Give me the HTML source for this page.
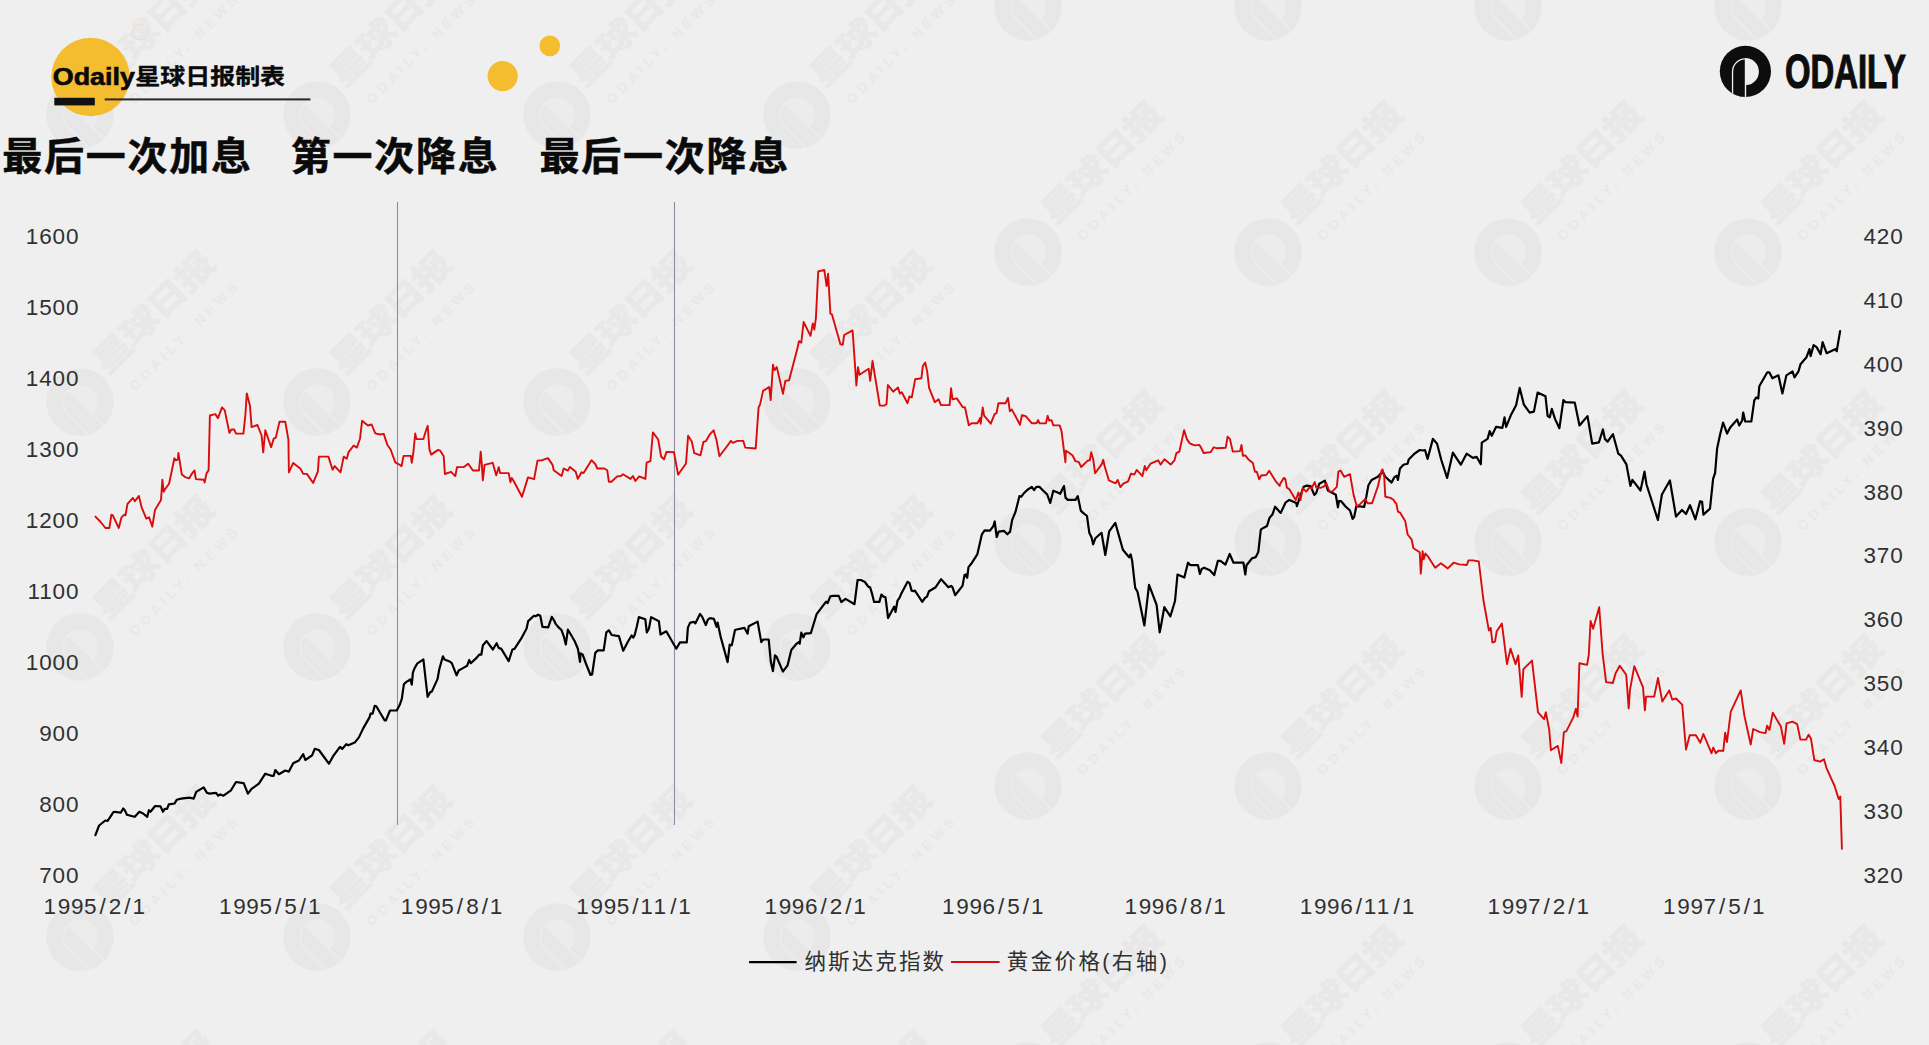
<!DOCTYPE html>
<html><head><meta charset="utf-8"><title>纳斯达克指数与黄金价格</title>
<style>html,body{margin:0;padding:0;background:#efefef;}svg{display:block}</style></head>
<body>
<svg width="1929" height="1045" viewBox="0 0 1929 1045">
<rect width="1929" height="1045" fill="#efefef"/>
<clipPath id="wmc"><circle r="25.6"/></clipPath>
<g id="wm"><g transform="translate(80,115)"><g transform="rotate(-45) scale(1.316)"><circle r="25.6" fill="#e7e7e7"/><path d="M-13.5,0.2 A13.5,13.5 0 1 1 0.8,13.7 L0.8,25 L-13.5,25 Z" fill="#ececec" clip-path="url(#wmc)"/><path d="M-12.2,0.2 A12.2,12.2 0 0 1 -0.6,-12 L-0.6,30 L-12.2,30 Z" fill="#e7e7e7" clip-path="url(#wmc)"/></g><g transform="rotate(-45)"><text transform="translate(38,0.5) scale(1,0.82)" font-family="Liberation Sans, Noto Sans CJK SC, sans-serif" font-weight="700" font-size="40" fill="#e8e8e8" stroke="#e8e8e8" stroke-width="1" letter-spacing="-1.6">星球日报</text><text x="46" y="31.5" font-family="Liberation Sans, sans-serif" font-weight="700" font-size="13.5" fill="#e8e8e8" textLength="146" lengthAdjust="spacing">ODAILY. NEWS</text></g></g><g transform="translate(80,402)"><g transform="rotate(-45) scale(1.316)"><circle r="25.6" fill="#e7e7e7"/><path d="M-13.5,0.2 A13.5,13.5 0 1 1 0.8,13.7 L0.8,25 L-13.5,25 Z" fill="#ececec" clip-path="url(#wmc)"/><path d="M-12.2,0.2 A12.2,12.2 0 0 1 -0.6,-12 L-0.6,30 L-12.2,30 Z" fill="#e7e7e7" clip-path="url(#wmc)"/></g><g transform="rotate(-45)"><text transform="translate(38,0.5) scale(1,0.82)" font-family="Liberation Sans, Noto Sans CJK SC, sans-serif" font-weight="700" font-size="40" fill="#e8e8e8" stroke="#e8e8e8" stroke-width="1" letter-spacing="-1.6">星球日报</text><text x="46" y="31.5" font-family="Liberation Sans, sans-serif" font-weight="700" font-size="13.5" fill="#e8e8e8" textLength="146" lengthAdjust="spacing">ODAILY. NEWS</text></g></g><g transform="translate(80,647)"><g transform="rotate(-45) scale(1.316)"><circle r="25.6" fill="#e7e7e7"/><path d="M-13.5,0.2 A13.5,13.5 0 1 1 0.8,13.7 L0.8,25 L-13.5,25 Z" fill="#ececec" clip-path="url(#wmc)"/><path d="M-12.2,0.2 A12.2,12.2 0 0 1 -0.6,-12 L-0.6,30 L-12.2,30 Z" fill="#e7e7e7" clip-path="url(#wmc)"/></g><g transform="rotate(-45)"><text transform="translate(38,0.5) scale(1,0.82)" font-family="Liberation Sans, Noto Sans CJK SC, sans-serif" font-weight="700" font-size="40" fill="#e8e8e8" stroke="#e8e8e8" stroke-width="1" letter-spacing="-1.6">星球日报</text><text x="46" y="31.5" font-family="Liberation Sans, sans-serif" font-weight="700" font-size="13.5" fill="#e8e8e8" textLength="146" lengthAdjust="spacing">ODAILY. NEWS</text></g></g><g transform="translate(80,937)"><g transform="rotate(-45) scale(1.316)"><circle r="25.6" fill="#e7e7e7"/><path d="M-13.5,0.2 A13.5,13.5 0 1 1 0.8,13.7 L0.8,25 L-13.5,25 Z" fill="#ececec" clip-path="url(#wmc)"/><path d="M-12.2,0.2 A12.2,12.2 0 0 1 -0.6,-12 L-0.6,30 L-12.2,30 Z" fill="#e7e7e7" clip-path="url(#wmc)"/></g><g transform="rotate(-45)"><text transform="translate(38,0.5) scale(1,0.82)" font-family="Liberation Sans, Noto Sans CJK SC, sans-serif" font-weight="700" font-size="40" fill="#e8e8e8" stroke="#e8e8e8" stroke-width="1" letter-spacing="-1.6">星球日报</text><text x="46" y="31.5" font-family="Liberation Sans, sans-serif" font-weight="700" font-size="13.5" fill="#e8e8e8" textLength="146" lengthAdjust="spacing">ODAILY. NEWS</text></g></g><g transform="translate(80,1182)"><g transform="rotate(-45) scale(1.316)"><circle r="25.6" fill="#e7e7e7"/><path d="M-13.5,0.2 A13.5,13.5 0 1 1 0.8,13.7 L0.8,25 L-13.5,25 Z" fill="#ececec" clip-path="url(#wmc)"/><path d="M-12.2,0.2 A12.2,12.2 0 0 1 -0.6,-12 L-0.6,30 L-12.2,30 Z" fill="#e7e7e7" clip-path="url(#wmc)"/></g><g transform="rotate(-45)"><text transform="translate(38,0.5) scale(1,0.82)" font-family="Liberation Sans, Noto Sans CJK SC, sans-serif" font-weight="700" font-size="40" fill="#e8e8e8" stroke="#e8e8e8" stroke-width="1" letter-spacing="-1.6">星球日报</text><text x="46" y="31.5" font-family="Liberation Sans, sans-serif" font-weight="700" font-size="13.5" fill="#e8e8e8" textLength="146" lengthAdjust="spacing">ODAILY. NEWS</text></g></g><g transform="translate(317,115)"><g transform="rotate(-45) scale(1.316)"><circle r="25.6" fill="#e7e7e7"/><path d="M-13.5,0.2 A13.5,13.5 0 1 1 0.8,13.7 L0.8,25 L-13.5,25 Z" fill="#ececec" clip-path="url(#wmc)"/><path d="M-12.2,0.2 A12.2,12.2 0 0 1 -0.6,-12 L-0.6,30 L-12.2,30 Z" fill="#e7e7e7" clip-path="url(#wmc)"/></g><g transform="rotate(-45)"><text transform="translate(38,0.5) scale(1,0.82)" font-family="Liberation Sans, Noto Sans CJK SC, sans-serif" font-weight="700" font-size="40" fill="#e8e8e8" stroke="#e8e8e8" stroke-width="1" letter-spacing="-1.6">星球日报</text><text x="46" y="31.5" font-family="Liberation Sans, sans-serif" font-weight="700" font-size="13.5" fill="#e8e8e8" textLength="146" lengthAdjust="spacing">ODAILY. NEWS</text></g></g><g transform="translate(317,402)"><g transform="rotate(-45) scale(1.316)"><circle r="25.6" fill="#e7e7e7"/><path d="M-13.5,0.2 A13.5,13.5 0 1 1 0.8,13.7 L0.8,25 L-13.5,25 Z" fill="#ececec" clip-path="url(#wmc)"/><path d="M-12.2,0.2 A12.2,12.2 0 0 1 -0.6,-12 L-0.6,30 L-12.2,30 Z" fill="#e7e7e7" clip-path="url(#wmc)"/></g><g transform="rotate(-45)"><text transform="translate(38,0.5) scale(1,0.82)" font-family="Liberation Sans, Noto Sans CJK SC, sans-serif" font-weight="700" font-size="40" fill="#e8e8e8" stroke="#e8e8e8" stroke-width="1" letter-spacing="-1.6">星球日报</text><text x="46" y="31.5" font-family="Liberation Sans, sans-serif" font-weight="700" font-size="13.5" fill="#e8e8e8" textLength="146" lengthAdjust="spacing">ODAILY. NEWS</text></g></g><g transform="translate(317,647)"><g transform="rotate(-45) scale(1.316)"><circle r="25.6" fill="#e7e7e7"/><path d="M-13.5,0.2 A13.5,13.5 0 1 1 0.8,13.7 L0.8,25 L-13.5,25 Z" fill="#ececec" clip-path="url(#wmc)"/><path d="M-12.2,0.2 A12.2,12.2 0 0 1 -0.6,-12 L-0.6,30 L-12.2,30 Z" fill="#e7e7e7" clip-path="url(#wmc)"/></g><g transform="rotate(-45)"><text transform="translate(38,0.5) scale(1,0.82)" font-family="Liberation Sans, Noto Sans CJK SC, sans-serif" font-weight="700" font-size="40" fill="#e8e8e8" stroke="#e8e8e8" stroke-width="1" letter-spacing="-1.6">星球日报</text><text x="46" y="31.5" font-family="Liberation Sans, sans-serif" font-weight="700" font-size="13.5" fill="#e8e8e8" textLength="146" lengthAdjust="spacing">ODAILY. NEWS</text></g></g><g transform="translate(317,937)"><g transform="rotate(-45) scale(1.316)"><circle r="25.6" fill="#e7e7e7"/><path d="M-13.5,0.2 A13.5,13.5 0 1 1 0.8,13.7 L0.8,25 L-13.5,25 Z" fill="#ececec" clip-path="url(#wmc)"/><path d="M-12.2,0.2 A12.2,12.2 0 0 1 -0.6,-12 L-0.6,30 L-12.2,30 Z" fill="#e7e7e7" clip-path="url(#wmc)"/></g><g transform="rotate(-45)"><text transform="translate(38,0.5) scale(1,0.82)" font-family="Liberation Sans, Noto Sans CJK SC, sans-serif" font-weight="700" font-size="40" fill="#e8e8e8" stroke="#e8e8e8" stroke-width="1" letter-spacing="-1.6">星球日报</text><text x="46" y="31.5" font-family="Liberation Sans, sans-serif" font-weight="700" font-size="13.5" fill="#e8e8e8" textLength="146" lengthAdjust="spacing">ODAILY. NEWS</text></g></g><g transform="translate(317,1182)"><g transform="rotate(-45) scale(1.316)"><circle r="25.6" fill="#e7e7e7"/><path d="M-13.5,0.2 A13.5,13.5 0 1 1 0.8,13.7 L0.8,25 L-13.5,25 Z" fill="#ececec" clip-path="url(#wmc)"/><path d="M-12.2,0.2 A12.2,12.2 0 0 1 -0.6,-12 L-0.6,30 L-12.2,30 Z" fill="#e7e7e7" clip-path="url(#wmc)"/></g><g transform="rotate(-45)"><text transform="translate(38,0.5) scale(1,0.82)" font-family="Liberation Sans, Noto Sans CJK SC, sans-serif" font-weight="700" font-size="40" fill="#e8e8e8" stroke="#e8e8e8" stroke-width="1" letter-spacing="-1.6">星球日报</text><text x="46" y="31.5" font-family="Liberation Sans, sans-serif" font-weight="700" font-size="13.5" fill="#e8e8e8" textLength="146" lengthAdjust="spacing">ODAILY. NEWS</text></g></g><g transform="translate(557,115)"><g transform="rotate(-45) scale(1.316)"><circle r="25.6" fill="#e7e7e7"/><path d="M-13.5,0.2 A13.5,13.5 0 1 1 0.8,13.7 L0.8,25 L-13.5,25 Z" fill="#ececec" clip-path="url(#wmc)"/><path d="M-12.2,0.2 A12.2,12.2 0 0 1 -0.6,-12 L-0.6,30 L-12.2,30 Z" fill="#e7e7e7" clip-path="url(#wmc)"/></g><g transform="rotate(-45)"><text transform="translate(38,0.5) scale(1,0.82)" font-family="Liberation Sans, Noto Sans CJK SC, sans-serif" font-weight="700" font-size="40" fill="#e8e8e8" stroke="#e8e8e8" stroke-width="1" letter-spacing="-1.6">星球日报</text><text x="46" y="31.5" font-family="Liberation Sans, sans-serif" font-weight="700" font-size="13.5" fill="#e8e8e8" textLength="146" lengthAdjust="spacing">ODAILY. NEWS</text></g></g><g transform="translate(557,402)"><g transform="rotate(-45) scale(1.316)"><circle r="25.6" fill="#e7e7e7"/><path d="M-13.5,0.2 A13.5,13.5 0 1 1 0.8,13.7 L0.8,25 L-13.5,25 Z" fill="#ececec" clip-path="url(#wmc)"/><path d="M-12.2,0.2 A12.2,12.2 0 0 1 -0.6,-12 L-0.6,30 L-12.2,30 Z" fill="#e7e7e7" clip-path="url(#wmc)"/></g><g transform="rotate(-45)"><text transform="translate(38,0.5) scale(1,0.82)" font-family="Liberation Sans, Noto Sans CJK SC, sans-serif" font-weight="700" font-size="40" fill="#e8e8e8" stroke="#e8e8e8" stroke-width="1" letter-spacing="-1.6">星球日报</text><text x="46" y="31.5" font-family="Liberation Sans, sans-serif" font-weight="700" font-size="13.5" fill="#e8e8e8" textLength="146" lengthAdjust="spacing">ODAILY. NEWS</text></g></g><g transform="translate(557,647)"><g transform="rotate(-45) scale(1.316)"><circle r="25.6" fill="#e7e7e7"/><path d="M-13.5,0.2 A13.5,13.5 0 1 1 0.8,13.7 L0.8,25 L-13.5,25 Z" fill="#ececec" clip-path="url(#wmc)"/><path d="M-12.2,0.2 A12.2,12.2 0 0 1 -0.6,-12 L-0.6,30 L-12.2,30 Z" fill="#e7e7e7" clip-path="url(#wmc)"/></g><g transform="rotate(-45)"><text transform="translate(38,0.5) scale(1,0.82)" font-family="Liberation Sans, Noto Sans CJK SC, sans-serif" font-weight="700" font-size="40" fill="#e8e8e8" stroke="#e8e8e8" stroke-width="1" letter-spacing="-1.6">星球日报</text><text x="46" y="31.5" font-family="Liberation Sans, sans-serif" font-weight="700" font-size="13.5" fill="#e8e8e8" textLength="146" lengthAdjust="spacing">ODAILY. NEWS</text></g></g><g transform="translate(557,937)"><g transform="rotate(-45) scale(1.316)"><circle r="25.6" fill="#e7e7e7"/><path d="M-13.5,0.2 A13.5,13.5 0 1 1 0.8,13.7 L0.8,25 L-13.5,25 Z" fill="#ececec" clip-path="url(#wmc)"/><path d="M-12.2,0.2 A12.2,12.2 0 0 1 -0.6,-12 L-0.6,30 L-12.2,30 Z" fill="#e7e7e7" clip-path="url(#wmc)"/></g><g transform="rotate(-45)"><text transform="translate(38,0.5) scale(1,0.82)" font-family="Liberation Sans, Noto Sans CJK SC, sans-serif" font-weight="700" font-size="40" fill="#e8e8e8" stroke="#e8e8e8" stroke-width="1" letter-spacing="-1.6">星球日报</text><text x="46" y="31.5" font-family="Liberation Sans, sans-serif" font-weight="700" font-size="13.5" fill="#e8e8e8" textLength="146" lengthAdjust="spacing">ODAILY. NEWS</text></g></g><g transform="translate(557,1182)"><g transform="rotate(-45) scale(1.316)"><circle r="25.6" fill="#e7e7e7"/><path d="M-13.5,0.2 A13.5,13.5 0 1 1 0.8,13.7 L0.8,25 L-13.5,25 Z" fill="#ececec" clip-path="url(#wmc)"/><path d="M-12.2,0.2 A12.2,12.2 0 0 1 -0.6,-12 L-0.6,30 L-12.2,30 Z" fill="#e7e7e7" clip-path="url(#wmc)"/></g><g transform="rotate(-45)"><text transform="translate(38,0.5) scale(1,0.82)" font-family="Liberation Sans, Noto Sans CJK SC, sans-serif" font-weight="700" font-size="40" fill="#e8e8e8" stroke="#e8e8e8" stroke-width="1" letter-spacing="-1.6">星球日报</text><text x="46" y="31.5" font-family="Liberation Sans, sans-serif" font-weight="700" font-size="13.5" fill="#e8e8e8" textLength="146" lengthAdjust="spacing">ODAILY. NEWS</text></g></g><g transform="translate(797,115)"><g transform="rotate(-45) scale(1.316)"><circle r="25.6" fill="#e7e7e7"/><path d="M-13.5,0.2 A13.5,13.5 0 1 1 0.8,13.7 L0.8,25 L-13.5,25 Z" fill="#ececec" clip-path="url(#wmc)"/><path d="M-12.2,0.2 A12.2,12.2 0 0 1 -0.6,-12 L-0.6,30 L-12.2,30 Z" fill="#e7e7e7" clip-path="url(#wmc)"/></g><g transform="rotate(-45)"><text transform="translate(38,0.5) scale(1,0.82)" font-family="Liberation Sans, Noto Sans CJK SC, sans-serif" font-weight="700" font-size="40" fill="#e8e8e8" stroke="#e8e8e8" stroke-width="1" letter-spacing="-1.6">星球日报</text><text x="46" y="31.5" font-family="Liberation Sans, sans-serif" font-weight="700" font-size="13.5" fill="#e8e8e8" textLength="146" lengthAdjust="spacing">ODAILY. NEWS</text></g></g><g transform="translate(797,402)"><g transform="rotate(-45) scale(1.316)"><circle r="25.6" fill="#e7e7e7"/><path d="M-13.5,0.2 A13.5,13.5 0 1 1 0.8,13.7 L0.8,25 L-13.5,25 Z" fill="#ececec" clip-path="url(#wmc)"/><path d="M-12.2,0.2 A12.2,12.2 0 0 1 -0.6,-12 L-0.6,30 L-12.2,30 Z" fill="#e7e7e7" clip-path="url(#wmc)"/></g><g transform="rotate(-45)"><text transform="translate(38,0.5) scale(1,0.82)" font-family="Liberation Sans, Noto Sans CJK SC, sans-serif" font-weight="700" font-size="40" fill="#e8e8e8" stroke="#e8e8e8" stroke-width="1" letter-spacing="-1.6">星球日报</text><text x="46" y="31.5" font-family="Liberation Sans, sans-serif" font-weight="700" font-size="13.5" fill="#e8e8e8" textLength="146" lengthAdjust="spacing">ODAILY. NEWS</text></g></g><g transform="translate(797,647)"><g transform="rotate(-45) scale(1.316)"><circle r="25.6" fill="#e7e7e7"/><path d="M-13.5,0.2 A13.5,13.5 0 1 1 0.8,13.7 L0.8,25 L-13.5,25 Z" fill="#ececec" clip-path="url(#wmc)"/><path d="M-12.2,0.2 A12.2,12.2 0 0 1 -0.6,-12 L-0.6,30 L-12.2,30 Z" fill="#e7e7e7" clip-path="url(#wmc)"/></g><g transform="rotate(-45)"><text transform="translate(38,0.5) scale(1,0.82)" font-family="Liberation Sans, Noto Sans CJK SC, sans-serif" font-weight="700" font-size="40" fill="#e8e8e8" stroke="#e8e8e8" stroke-width="1" letter-spacing="-1.6">星球日报</text><text x="46" y="31.5" font-family="Liberation Sans, sans-serif" font-weight="700" font-size="13.5" fill="#e8e8e8" textLength="146" lengthAdjust="spacing">ODAILY. NEWS</text></g></g><g transform="translate(797,937)"><g transform="rotate(-45) scale(1.316)"><circle r="25.6" fill="#e7e7e7"/><path d="M-13.5,0.2 A13.5,13.5 0 1 1 0.8,13.7 L0.8,25 L-13.5,25 Z" fill="#ececec" clip-path="url(#wmc)"/><path d="M-12.2,0.2 A12.2,12.2 0 0 1 -0.6,-12 L-0.6,30 L-12.2,30 Z" fill="#e7e7e7" clip-path="url(#wmc)"/></g><g transform="rotate(-45)"><text transform="translate(38,0.5) scale(1,0.82)" font-family="Liberation Sans, Noto Sans CJK SC, sans-serif" font-weight="700" font-size="40" fill="#e8e8e8" stroke="#e8e8e8" stroke-width="1" letter-spacing="-1.6">星球日报</text><text x="46" y="31.5" font-family="Liberation Sans, sans-serif" font-weight="700" font-size="13.5" fill="#e8e8e8" textLength="146" lengthAdjust="spacing">ODAILY. NEWS</text></g></g><g transform="translate(797,1182)"><g transform="rotate(-45) scale(1.316)"><circle r="25.6" fill="#e7e7e7"/><path d="M-13.5,0.2 A13.5,13.5 0 1 1 0.8,13.7 L0.8,25 L-13.5,25 Z" fill="#ececec" clip-path="url(#wmc)"/><path d="M-12.2,0.2 A12.2,12.2 0 0 1 -0.6,-12 L-0.6,30 L-12.2,30 Z" fill="#e7e7e7" clip-path="url(#wmc)"/></g><g transform="rotate(-45)"><text transform="translate(38,0.5) scale(1,0.82)" font-family="Liberation Sans, Noto Sans CJK SC, sans-serif" font-weight="700" font-size="40" fill="#e8e8e8" stroke="#e8e8e8" stroke-width="1" letter-spacing="-1.6">星球日报</text><text x="46" y="31.5" font-family="Liberation Sans, sans-serif" font-weight="700" font-size="13.5" fill="#e8e8e8" textLength="146" lengthAdjust="spacing">ODAILY. NEWS</text></g></g><g transform="translate(1028,7)"><g transform="rotate(-45) scale(1.316)"><circle r="25.6" fill="#e7e7e7"/><path d="M-13.5,0.2 A13.5,13.5 0 1 1 0.8,13.7 L0.8,25 L-13.5,25 Z" fill="#ececec" clip-path="url(#wmc)"/><path d="M-12.2,0.2 A12.2,12.2 0 0 1 -0.6,-12 L-0.6,30 L-12.2,30 Z" fill="#e7e7e7" clip-path="url(#wmc)"/></g><g transform="rotate(-45)"><text transform="translate(38,0.5) scale(1,0.82)" font-family="Liberation Sans, Noto Sans CJK SC, sans-serif" font-weight="700" font-size="40" fill="#e8e8e8" stroke="#e8e8e8" stroke-width="1" letter-spacing="-1.6">星球日报</text><text x="46" y="31.5" font-family="Liberation Sans, sans-serif" font-weight="700" font-size="13.5" fill="#e8e8e8" textLength="146" lengthAdjust="spacing">ODAILY. NEWS</text></g></g><g transform="translate(1028,252)"><g transform="rotate(-45) scale(1.316)"><circle r="25.6" fill="#e7e7e7"/><path d="M-13.5,0.2 A13.5,13.5 0 1 1 0.8,13.7 L0.8,25 L-13.5,25 Z" fill="#ececec" clip-path="url(#wmc)"/><path d="M-12.2,0.2 A12.2,12.2 0 0 1 -0.6,-12 L-0.6,30 L-12.2,30 Z" fill="#e7e7e7" clip-path="url(#wmc)"/></g><g transform="rotate(-45)"><text transform="translate(38,0.5) scale(1,0.82)" font-family="Liberation Sans, Noto Sans CJK SC, sans-serif" font-weight="700" font-size="40" fill="#e8e8e8" stroke="#e8e8e8" stroke-width="1" letter-spacing="-1.6">星球日报</text><text x="46" y="31.5" font-family="Liberation Sans, sans-serif" font-weight="700" font-size="13.5" fill="#e8e8e8" textLength="146" lengthAdjust="spacing">ODAILY. NEWS</text></g></g><g transform="translate(1028,542)"><g transform="rotate(-45) scale(1.316)"><circle r="25.6" fill="#e7e7e7"/><path d="M-13.5,0.2 A13.5,13.5 0 1 1 0.8,13.7 L0.8,25 L-13.5,25 Z" fill="#ececec" clip-path="url(#wmc)"/><path d="M-12.2,0.2 A12.2,12.2 0 0 1 -0.6,-12 L-0.6,30 L-12.2,30 Z" fill="#e7e7e7" clip-path="url(#wmc)"/></g><g transform="rotate(-45)"><text transform="translate(38,0.5) scale(1,0.82)" font-family="Liberation Sans, Noto Sans CJK SC, sans-serif" font-weight="700" font-size="40" fill="#e8e8e8" stroke="#e8e8e8" stroke-width="1" letter-spacing="-1.6">星球日报</text><text x="46" y="31.5" font-family="Liberation Sans, sans-serif" font-weight="700" font-size="13.5" fill="#e8e8e8" textLength="146" lengthAdjust="spacing">ODAILY. NEWS</text></g></g><g transform="translate(1028,786)"><g transform="rotate(-45) scale(1.316)"><circle r="25.6" fill="#e7e7e7"/><path d="M-13.5,0.2 A13.5,13.5 0 1 1 0.8,13.7 L0.8,25 L-13.5,25 Z" fill="#ececec" clip-path="url(#wmc)"/><path d="M-12.2,0.2 A12.2,12.2 0 0 1 -0.6,-12 L-0.6,30 L-12.2,30 Z" fill="#e7e7e7" clip-path="url(#wmc)"/></g><g transform="rotate(-45)"><text transform="translate(38,0.5) scale(1,0.82)" font-family="Liberation Sans, Noto Sans CJK SC, sans-serif" font-weight="700" font-size="40" fill="#e8e8e8" stroke="#e8e8e8" stroke-width="1" letter-spacing="-1.6">星球日报</text><text x="46" y="31.5" font-family="Liberation Sans, sans-serif" font-weight="700" font-size="13.5" fill="#e8e8e8" textLength="146" lengthAdjust="spacing">ODAILY. NEWS</text></g></g><g transform="translate(1028,1076)"><g transform="rotate(-45) scale(1.316)"><circle r="25.6" fill="#e7e7e7"/><path d="M-13.5,0.2 A13.5,13.5 0 1 1 0.8,13.7 L0.8,25 L-13.5,25 Z" fill="#ececec" clip-path="url(#wmc)"/><path d="M-12.2,0.2 A12.2,12.2 0 0 1 -0.6,-12 L-0.6,30 L-12.2,30 Z" fill="#e7e7e7" clip-path="url(#wmc)"/></g><g transform="rotate(-45)"><text transform="translate(38,0.5) scale(1,0.82)" font-family="Liberation Sans, Noto Sans CJK SC, sans-serif" font-weight="700" font-size="40" fill="#e8e8e8" stroke="#e8e8e8" stroke-width="1" letter-spacing="-1.6">星球日报</text><text x="46" y="31.5" font-family="Liberation Sans, sans-serif" font-weight="700" font-size="13.5" fill="#e8e8e8" textLength="146" lengthAdjust="spacing">ODAILY. NEWS</text></g></g><g transform="translate(1268,7)"><g transform="rotate(-45) scale(1.316)"><circle r="25.6" fill="#e7e7e7"/><path d="M-13.5,0.2 A13.5,13.5 0 1 1 0.8,13.7 L0.8,25 L-13.5,25 Z" fill="#ececec" clip-path="url(#wmc)"/><path d="M-12.2,0.2 A12.2,12.2 0 0 1 -0.6,-12 L-0.6,30 L-12.2,30 Z" fill="#e7e7e7" clip-path="url(#wmc)"/></g><g transform="rotate(-45)"><text transform="translate(38,0.5) scale(1,0.82)" font-family="Liberation Sans, Noto Sans CJK SC, sans-serif" font-weight="700" font-size="40" fill="#e8e8e8" stroke="#e8e8e8" stroke-width="1" letter-spacing="-1.6">星球日报</text><text x="46" y="31.5" font-family="Liberation Sans, sans-serif" font-weight="700" font-size="13.5" fill="#e8e8e8" textLength="146" lengthAdjust="spacing">ODAILY. NEWS</text></g></g><g transform="translate(1268,252)"><g transform="rotate(-45) scale(1.316)"><circle r="25.6" fill="#e7e7e7"/><path d="M-13.5,0.2 A13.5,13.5 0 1 1 0.8,13.7 L0.8,25 L-13.5,25 Z" fill="#ececec" clip-path="url(#wmc)"/><path d="M-12.2,0.2 A12.2,12.2 0 0 1 -0.6,-12 L-0.6,30 L-12.2,30 Z" fill="#e7e7e7" clip-path="url(#wmc)"/></g><g transform="rotate(-45)"><text transform="translate(38,0.5) scale(1,0.82)" font-family="Liberation Sans, Noto Sans CJK SC, sans-serif" font-weight="700" font-size="40" fill="#e8e8e8" stroke="#e8e8e8" stroke-width="1" letter-spacing="-1.6">星球日报</text><text x="46" y="31.5" font-family="Liberation Sans, sans-serif" font-weight="700" font-size="13.5" fill="#e8e8e8" textLength="146" lengthAdjust="spacing">ODAILY. NEWS</text></g></g><g transform="translate(1268,542)"><g transform="rotate(-45) scale(1.316)"><circle r="25.6" fill="#e7e7e7"/><path d="M-13.5,0.2 A13.5,13.5 0 1 1 0.8,13.7 L0.8,25 L-13.5,25 Z" fill="#ececec" clip-path="url(#wmc)"/><path d="M-12.2,0.2 A12.2,12.2 0 0 1 -0.6,-12 L-0.6,30 L-12.2,30 Z" fill="#e7e7e7" clip-path="url(#wmc)"/></g><g transform="rotate(-45)"><text transform="translate(38,0.5) scale(1,0.82)" font-family="Liberation Sans, Noto Sans CJK SC, sans-serif" font-weight="700" font-size="40" fill="#e8e8e8" stroke="#e8e8e8" stroke-width="1" letter-spacing="-1.6">星球日报</text><text x="46" y="31.5" font-family="Liberation Sans, sans-serif" font-weight="700" font-size="13.5" fill="#e8e8e8" textLength="146" lengthAdjust="spacing">ODAILY. NEWS</text></g></g><g transform="translate(1268,786)"><g transform="rotate(-45) scale(1.316)"><circle r="25.6" fill="#e7e7e7"/><path d="M-13.5,0.2 A13.5,13.5 0 1 1 0.8,13.7 L0.8,25 L-13.5,25 Z" fill="#ececec" clip-path="url(#wmc)"/><path d="M-12.2,0.2 A12.2,12.2 0 0 1 -0.6,-12 L-0.6,30 L-12.2,30 Z" fill="#e7e7e7" clip-path="url(#wmc)"/></g><g transform="rotate(-45)"><text transform="translate(38,0.5) scale(1,0.82)" font-family="Liberation Sans, Noto Sans CJK SC, sans-serif" font-weight="700" font-size="40" fill="#e8e8e8" stroke="#e8e8e8" stroke-width="1" letter-spacing="-1.6">星球日报</text><text x="46" y="31.5" font-family="Liberation Sans, sans-serif" font-weight="700" font-size="13.5" fill="#e8e8e8" textLength="146" lengthAdjust="spacing">ODAILY. NEWS</text></g></g><g transform="translate(1268,1076)"><g transform="rotate(-45) scale(1.316)"><circle r="25.6" fill="#e7e7e7"/><path d="M-13.5,0.2 A13.5,13.5 0 1 1 0.8,13.7 L0.8,25 L-13.5,25 Z" fill="#ececec" clip-path="url(#wmc)"/><path d="M-12.2,0.2 A12.2,12.2 0 0 1 -0.6,-12 L-0.6,30 L-12.2,30 Z" fill="#e7e7e7" clip-path="url(#wmc)"/></g><g transform="rotate(-45)"><text transform="translate(38,0.5) scale(1,0.82)" font-family="Liberation Sans, Noto Sans CJK SC, sans-serif" font-weight="700" font-size="40" fill="#e8e8e8" stroke="#e8e8e8" stroke-width="1" letter-spacing="-1.6">星球日报</text><text x="46" y="31.5" font-family="Liberation Sans, sans-serif" font-weight="700" font-size="13.5" fill="#e8e8e8" textLength="146" lengthAdjust="spacing">ODAILY. NEWS</text></g></g><g transform="translate(1508,7)"><g transform="rotate(-45) scale(1.316)"><circle r="25.6" fill="#e7e7e7"/><path d="M-13.5,0.2 A13.5,13.5 0 1 1 0.8,13.7 L0.8,25 L-13.5,25 Z" fill="#ececec" clip-path="url(#wmc)"/><path d="M-12.2,0.2 A12.2,12.2 0 0 1 -0.6,-12 L-0.6,30 L-12.2,30 Z" fill="#e7e7e7" clip-path="url(#wmc)"/></g><g transform="rotate(-45)"><text transform="translate(38,0.5) scale(1,0.82)" font-family="Liberation Sans, Noto Sans CJK SC, sans-serif" font-weight="700" font-size="40" fill="#e8e8e8" stroke="#e8e8e8" stroke-width="1" letter-spacing="-1.6">星球日报</text><text x="46" y="31.5" font-family="Liberation Sans, sans-serif" font-weight="700" font-size="13.5" fill="#e8e8e8" textLength="146" lengthAdjust="spacing">ODAILY. NEWS</text></g></g><g transform="translate(1508,252)"><g transform="rotate(-45) scale(1.316)"><circle r="25.6" fill="#e7e7e7"/><path d="M-13.5,0.2 A13.5,13.5 0 1 1 0.8,13.7 L0.8,25 L-13.5,25 Z" fill="#ececec" clip-path="url(#wmc)"/><path d="M-12.2,0.2 A12.2,12.2 0 0 1 -0.6,-12 L-0.6,30 L-12.2,30 Z" fill="#e7e7e7" clip-path="url(#wmc)"/></g><g transform="rotate(-45)"><text transform="translate(38,0.5) scale(1,0.82)" font-family="Liberation Sans, Noto Sans CJK SC, sans-serif" font-weight="700" font-size="40" fill="#e8e8e8" stroke="#e8e8e8" stroke-width="1" letter-spacing="-1.6">星球日报</text><text x="46" y="31.5" font-family="Liberation Sans, sans-serif" font-weight="700" font-size="13.5" fill="#e8e8e8" textLength="146" lengthAdjust="spacing">ODAILY. NEWS</text></g></g><g transform="translate(1508,542)"><g transform="rotate(-45) scale(1.316)"><circle r="25.6" fill="#e7e7e7"/><path d="M-13.5,0.2 A13.5,13.5 0 1 1 0.8,13.7 L0.8,25 L-13.5,25 Z" fill="#ececec" clip-path="url(#wmc)"/><path d="M-12.2,0.2 A12.2,12.2 0 0 1 -0.6,-12 L-0.6,30 L-12.2,30 Z" fill="#e7e7e7" clip-path="url(#wmc)"/></g><g transform="rotate(-45)"><text transform="translate(38,0.5) scale(1,0.82)" font-family="Liberation Sans, Noto Sans CJK SC, sans-serif" font-weight="700" font-size="40" fill="#e8e8e8" stroke="#e8e8e8" stroke-width="1" letter-spacing="-1.6">星球日报</text><text x="46" y="31.5" font-family="Liberation Sans, sans-serif" font-weight="700" font-size="13.5" fill="#e8e8e8" textLength="146" lengthAdjust="spacing">ODAILY. NEWS</text></g></g><g transform="translate(1508,786)"><g transform="rotate(-45) scale(1.316)"><circle r="25.6" fill="#e7e7e7"/><path d="M-13.5,0.2 A13.5,13.5 0 1 1 0.8,13.7 L0.8,25 L-13.5,25 Z" fill="#ececec" clip-path="url(#wmc)"/><path d="M-12.2,0.2 A12.2,12.2 0 0 1 -0.6,-12 L-0.6,30 L-12.2,30 Z" fill="#e7e7e7" clip-path="url(#wmc)"/></g><g transform="rotate(-45)"><text transform="translate(38,0.5) scale(1,0.82)" font-family="Liberation Sans, Noto Sans CJK SC, sans-serif" font-weight="700" font-size="40" fill="#e8e8e8" stroke="#e8e8e8" stroke-width="1" letter-spacing="-1.6">星球日报</text><text x="46" y="31.5" font-family="Liberation Sans, sans-serif" font-weight="700" font-size="13.5" fill="#e8e8e8" textLength="146" lengthAdjust="spacing">ODAILY. NEWS</text></g></g><g transform="translate(1508,1076)"><g transform="rotate(-45) scale(1.316)"><circle r="25.6" fill="#e7e7e7"/><path d="M-13.5,0.2 A13.5,13.5 0 1 1 0.8,13.7 L0.8,25 L-13.5,25 Z" fill="#ececec" clip-path="url(#wmc)"/><path d="M-12.2,0.2 A12.2,12.2 0 0 1 -0.6,-12 L-0.6,30 L-12.2,30 Z" fill="#e7e7e7" clip-path="url(#wmc)"/></g><g transform="rotate(-45)"><text transform="translate(38,0.5) scale(1,0.82)" font-family="Liberation Sans, Noto Sans CJK SC, sans-serif" font-weight="700" font-size="40" fill="#e8e8e8" stroke="#e8e8e8" stroke-width="1" letter-spacing="-1.6">星球日报</text><text x="46" y="31.5" font-family="Liberation Sans, sans-serif" font-weight="700" font-size="13.5" fill="#e8e8e8" textLength="146" lengthAdjust="spacing">ODAILY. NEWS</text></g></g><g transform="translate(1748,7)"><g transform="rotate(-45) scale(1.316)"><circle r="25.6" fill="#e7e7e7"/><path d="M-13.5,0.2 A13.5,13.5 0 1 1 0.8,13.7 L0.8,25 L-13.5,25 Z" fill="#ececec" clip-path="url(#wmc)"/><path d="M-12.2,0.2 A12.2,12.2 0 0 1 -0.6,-12 L-0.6,30 L-12.2,30 Z" fill="#e7e7e7" clip-path="url(#wmc)"/></g><g transform="rotate(-45)"><text transform="translate(38,0.5) scale(1,0.82)" font-family="Liberation Sans, Noto Sans CJK SC, sans-serif" font-weight="700" font-size="40" fill="#e8e8e8" stroke="#e8e8e8" stroke-width="1" letter-spacing="-1.6">星球日报</text><text x="46" y="31.5" font-family="Liberation Sans, sans-serif" font-weight="700" font-size="13.5" fill="#e8e8e8" textLength="146" lengthAdjust="spacing">ODAILY. NEWS</text></g></g><g transform="translate(1748,252)"><g transform="rotate(-45) scale(1.316)"><circle r="25.6" fill="#e7e7e7"/><path d="M-13.5,0.2 A13.5,13.5 0 1 1 0.8,13.7 L0.8,25 L-13.5,25 Z" fill="#ececec" clip-path="url(#wmc)"/><path d="M-12.2,0.2 A12.2,12.2 0 0 1 -0.6,-12 L-0.6,30 L-12.2,30 Z" fill="#e7e7e7" clip-path="url(#wmc)"/></g><g transform="rotate(-45)"><text transform="translate(38,0.5) scale(1,0.82)" font-family="Liberation Sans, Noto Sans CJK SC, sans-serif" font-weight="700" font-size="40" fill="#e8e8e8" stroke="#e8e8e8" stroke-width="1" letter-spacing="-1.6">星球日报</text><text x="46" y="31.5" font-family="Liberation Sans, sans-serif" font-weight="700" font-size="13.5" fill="#e8e8e8" textLength="146" lengthAdjust="spacing">ODAILY. NEWS</text></g></g><g transform="translate(1748,542)"><g transform="rotate(-45) scale(1.316)"><circle r="25.6" fill="#e7e7e7"/><path d="M-13.5,0.2 A13.5,13.5 0 1 1 0.8,13.7 L0.8,25 L-13.5,25 Z" fill="#ececec" clip-path="url(#wmc)"/><path d="M-12.2,0.2 A12.2,12.2 0 0 1 -0.6,-12 L-0.6,30 L-12.2,30 Z" fill="#e7e7e7" clip-path="url(#wmc)"/></g><g transform="rotate(-45)"><text transform="translate(38,0.5) scale(1,0.82)" font-family="Liberation Sans, Noto Sans CJK SC, sans-serif" font-weight="700" font-size="40" fill="#e8e8e8" stroke="#e8e8e8" stroke-width="1" letter-spacing="-1.6">星球日报</text><text x="46" y="31.5" font-family="Liberation Sans, sans-serif" font-weight="700" font-size="13.5" fill="#e8e8e8" textLength="146" lengthAdjust="spacing">ODAILY. NEWS</text></g></g><g transform="translate(1748,786)"><g transform="rotate(-45) scale(1.316)"><circle r="25.6" fill="#e7e7e7"/><path d="M-13.5,0.2 A13.5,13.5 0 1 1 0.8,13.7 L0.8,25 L-13.5,25 Z" fill="#ececec" clip-path="url(#wmc)"/><path d="M-12.2,0.2 A12.2,12.2 0 0 1 -0.6,-12 L-0.6,30 L-12.2,30 Z" fill="#e7e7e7" clip-path="url(#wmc)"/></g><g transform="rotate(-45)"><text transform="translate(38,0.5) scale(1,0.82)" font-family="Liberation Sans, Noto Sans CJK SC, sans-serif" font-weight="700" font-size="40" fill="#e8e8e8" stroke="#e8e8e8" stroke-width="1" letter-spacing="-1.6">星球日报</text><text x="46" y="31.5" font-family="Liberation Sans, sans-serif" font-weight="700" font-size="13.5" fill="#e8e8e8" textLength="146" lengthAdjust="spacing">ODAILY. NEWS</text></g></g><g transform="translate(1748,1076)"><g transform="rotate(-45) scale(1.316)"><circle r="25.6" fill="#e7e7e7"/><path d="M-13.5,0.2 A13.5,13.5 0 1 1 0.8,13.7 L0.8,25 L-13.5,25 Z" fill="#ececec" clip-path="url(#wmc)"/><path d="M-12.2,0.2 A12.2,12.2 0 0 1 -0.6,-12 L-0.6,30 L-12.2,30 Z" fill="#e7e7e7" clip-path="url(#wmc)"/></g><g transform="rotate(-45)"><text transform="translate(38,0.5) scale(1,0.82)" font-family="Liberation Sans, Noto Sans CJK SC, sans-serif" font-weight="700" font-size="40" fill="#e8e8e8" stroke="#e8e8e8" stroke-width="1" letter-spacing="-1.6">星球日报</text><text x="46" y="31.5" font-family="Liberation Sans, sans-serif" font-weight="700" font-size="13.5" fill="#e8e8e8" textLength="146" lengthAdjust="spacing">ODAILY. NEWS</text></g></g></g>
<circle cx="139.7" cy="32" r="7.7" fill="none" stroke="#efd9bd" stroke-width="0.8"/>
<circle cx="90.5" cy="77" r="39.2" fill="#f4bd30"/>
<text transform="translate(52.8,85.1) scale(1.12,1)" font-family="Liberation Sans, sans-serif" font-weight="700" font-size="24" fill="#0a0a0a" stroke="#0a0a0a" stroke-width="0.6">Odaily</text>
<text transform="translate(135.2,84.4) scale(1,0.88)" x="0" y="0" font-family="Liberation Sans, Noto Sans CJK SC, sans-serif" font-weight="700" font-size="25" letter-spacing="0" fill="#0a0a0a" stroke="#0a0a0a" stroke-width="0.4">星球日报制表</text>
<rect x="54.3" y="97.8" width="40.5" height="7.6" fill="#111"/>
<rect x="104.7" y="98.4" width="205.7" height="2" fill="#2b2522"/>
<circle cx="502.7" cy="76.1" r="15.1" fill="#f4bd30"/>
<circle cx="549.8" cy="45.9" r="10.3" fill="#f4bd30"/>
<g id="logo">
<clipPath id="lc"><circle cx="1745.4" cy="71.4" r="25.6"/></clipPath>
<circle cx="1745.4" cy="71.4" r="25.6" fill="#0d0d0d"/>
<g clip-path="url(#lc)">
<path d="M1731.9,71.6 A13.5,13.5 0 1 1 1746.2,85.1 L1746.2,100 L1731.9,100 Z" fill="#efefef"/>
<path d="M1733.2,71.6 A12.2,12.2 0 0 1 1744.8,59.4 L1744.8,100 L1733.2,100 Z" fill="#0d0d0d"/>
</g>
<text x="1784.9" y="88.2" font-family="Liberation Sans, sans-serif" font-weight="700" font-size="49" textLength="121.1" lengthAdjust="spacingAndGlyphs" fill="#0d0d0d" stroke="#0d0d0d" stroke-width="1.2">ODAILY</text>
</g>
<g font-family="Liberation Sans, Noto Sans CJK SC, sans-serif" font-weight="700" font-size="40" fill="#0a0a0a" stroke="#0a0a0a" stroke-width="0.5" letter-spacing="1.8">
<text transform="translate(2.2,170) scale(1,0.957)">最后一次加息</text>
<text transform="translate(290.7,170) scale(1,0.957)">第一次降息</text>
<text transform="translate(539.5,170) scale(1,0.957)">最后一次降息</text>
</g>
<text x="79.4" y="244.1" text-anchor="end" font-family="Liberation Sans, Noto Sans CJK SC, sans-serif" font-size="22.5" letter-spacing="0.9" fill="#303030">1600</text><text x="79.4" y="315.1" text-anchor="end" font-family="Liberation Sans, Noto Sans CJK SC, sans-serif" font-size="22.5" letter-spacing="0.9" fill="#303030">1500</text><text x="79.4" y="386.1" text-anchor="end" font-family="Liberation Sans, Noto Sans CJK SC, sans-serif" font-size="22.5" letter-spacing="0.9" fill="#303030">1400</text><text x="79.4" y="457.1" text-anchor="end" font-family="Liberation Sans, Noto Sans CJK SC, sans-serif" font-size="22.5" letter-spacing="0.9" fill="#303030">1300</text><text x="79.4" y="528.1" text-anchor="end" font-family="Liberation Sans, Noto Sans CJK SC, sans-serif" font-size="22.5" letter-spacing="0.9" fill="#303030">1200</text><text x="79.4" y="599.1" text-anchor="end" font-family="Liberation Sans, Noto Sans CJK SC, sans-serif" font-size="22.5" letter-spacing="0.9" fill="#303030">1100</text><text x="79.4" y="670.1" text-anchor="end" font-family="Liberation Sans, Noto Sans CJK SC, sans-serif" font-size="22.5" letter-spacing="0.9" fill="#303030">1000</text><text x="79.4" y="741.1" text-anchor="end" font-family="Liberation Sans, Noto Sans CJK SC, sans-serif" font-size="22.5" letter-spacing="0.9" fill="#303030">900</text><text x="79.4" y="812.1" text-anchor="end" font-family="Liberation Sans, Noto Sans CJK SC, sans-serif" font-size="22.5" letter-spacing="0.9" fill="#303030">800</text><text x="79.4" y="883.1" text-anchor="end" font-family="Liberation Sans, Noto Sans CJK SC, sans-serif" font-size="22.5" letter-spacing="0.9" fill="#303030">700</text><text x="1903.7" y="244.2" text-anchor="end" font-family="Liberation Sans, Noto Sans CJK SC, sans-serif" font-size="22.5" letter-spacing="0.9" fill="#303030">420</text><text x="1903.7" y="308.1" text-anchor="end" font-family="Liberation Sans, Noto Sans CJK SC, sans-serif" font-size="22.5" letter-spacing="0.9" fill="#303030">410</text><text x="1903.7" y="371.9" text-anchor="end" font-family="Liberation Sans, Noto Sans CJK SC, sans-serif" font-size="22.5" letter-spacing="0.9" fill="#303030">400</text><text x="1903.7" y="435.8" text-anchor="end" font-family="Liberation Sans, Noto Sans CJK SC, sans-serif" font-size="22.5" letter-spacing="0.9" fill="#303030">390</text><text x="1903.7" y="499.6" text-anchor="end" font-family="Liberation Sans, Noto Sans CJK SC, sans-serif" font-size="22.5" letter-spacing="0.9" fill="#303030">380</text><text x="1903.7" y="563.4" text-anchor="end" font-family="Liberation Sans, Noto Sans CJK SC, sans-serif" font-size="22.5" letter-spacing="0.9" fill="#303030">370</text><text x="1903.7" y="627.3" text-anchor="end" font-family="Liberation Sans, Noto Sans CJK SC, sans-serif" font-size="22.5" letter-spacing="0.9" fill="#303030">360</text><text x="1903.7" y="691.1" text-anchor="end" font-family="Liberation Sans, Noto Sans CJK SC, sans-serif" font-size="22.5" letter-spacing="0.9" fill="#303030">350</text><text x="1903.7" y="755.0" text-anchor="end" font-family="Liberation Sans, Noto Sans CJK SC, sans-serif" font-size="22.5" letter-spacing="0.9" fill="#303030">340</text><text x="1903.7" y="818.9" text-anchor="end" font-family="Liberation Sans, Noto Sans CJK SC, sans-serif" font-size="22.5" letter-spacing="0.9" fill="#303030">330</text><text x="1903.7" y="882.7" text-anchor="end" font-family="Liberation Sans, Noto Sans CJK SC, sans-serif" font-size="22.5" letter-spacing="0.9" fill="#303030">320</text><text x="49.8 64.1 77.2 90.3 102.7 115.1 127.5 138.7" y="913.8" text-anchor="middle" font-family="Liberation Sans, Noto Sans CJK SC, sans-serif" font-size="22.5" fill="#303030">1995/2/1</text><text x="225.2 239.5 252.6 265.8 278.2 290.6 303.0 314.2" y="913.8" text-anchor="middle" font-family="Liberation Sans, Noto Sans CJK SC, sans-serif" font-size="22.5" fill="#303030">1995/5/1</text><text x="407.1 421.4 434.5 447.6 460.0 472.4 484.8 496.0" y="913.8" text-anchor="middle" font-family="Liberation Sans, Noto Sans CJK SC, sans-serif" font-size="22.5" fill="#303030">1995/8/1</text><text x="582.5 596.8 609.9 623.0 635.4 646.6 659.7 673.3 684.5" y="913.8" text-anchor="middle" font-family="Liberation Sans, Noto Sans CJK SC, sans-serif" font-size="22.5" fill="#303030">1995/11/1</text><text x="770.7 785.0 798.1 811.2 823.6 836.0 848.4 859.6" y="913.8" text-anchor="middle" font-family="Liberation Sans, Noto Sans CJK SC, sans-serif" font-size="22.5" fill="#303030">1996/2/1</text><text x="948.2 962.6 975.7 988.8 1001.2 1013.6 1026.0 1037.2" y="913.8" text-anchor="middle" font-family="Liberation Sans, Noto Sans CJK SC, sans-serif" font-size="22.5" fill="#303030">1996/5/1</text><text x="1130.7 1145.0 1158.1 1171.2 1183.6 1196.0 1208.4 1219.6" y="913.8" text-anchor="middle" font-family="Liberation Sans, Noto Sans CJK SC, sans-serif" font-size="22.5" fill="#303030">1996/8/1</text><text x="1306.0 1320.2 1333.3 1346.4 1358.8 1370.0 1383.1 1396.7 1407.9" y="913.8" text-anchor="middle" font-family="Liberation Sans, Noto Sans CJK SC, sans-serif" font-size="22.5" fill="#303030">1996/11/1</text><text x="1493.8 1508.1 1521.2 1534.3 1546.7 1559.1 1571.5 1582.7" y="913.8" text-anchor="middle" font-family="Liberation Sans, Noto Sans CJK SC, sans-serif" font-size="22.5" fill="#303030">1997/2/1</text><text x="1669.3 1683.6 1696.7 1709.8 1722.2 1734.6 1747.0 1758.2" y="913.8" text-anchor="middle" font-family="Liberation Sans, Noto Sans CJK SC, sans-serif" font-size="22.5" fill="#303030">1997/5/1</text>
<line x1="397.5" y1="202" x2="397.5" y2="825" stroke="#8e8ea6" stroke-width="1.1"/>
<line x1="674.5" y1="202" x2="674.5" y2="825" stroke="#8e8ea6" stroke-width="1.1"/>
<path d="M95.4,835.1 99.1,825.5 101.6,823.5 105.3,820.5 107.4,821.0 109.5,818.1 113.2,812.3 114.9,811.8 120.7,812.7 123.2,808.5 124.8,810.2 126.9,814.7 131.5,816.0 134.8,816.8 139.4,811.8 143.1,813.5 147.2,816.8 148.9,810.2 150.5,811.8 155.1,806.0 160.5,806.4 163.0,811.8 164.7,808.9 167.1,808.9 168.8,804.4 174.6,803.5 176.7,799.8 181.2,798.6 189.5,797.7 193.7,798.6 196.2,791.9 203.6,787.4 207.0,792.8 209.4,793.6 216.1,792.8 218.1,795.7 220.2,794.4 223.5,795.7 231.0,790.3 236.0,782.0 243.4,783.2 243.7,783.2 247.9,793.7 251.6,788.9 258.9,783.7 265.3,773.7 271.6,775.8 273.7,775.8 275.3,770.0 278.9,774.2 285.3,770.5 288.9,771.6 293.2,763.2 298.9,760.5 303.2,754.2 305.3,760.0 312.1,755.3 314.7,748.9 318.9,750.0 328.9,763.7 333.7,755.3 340.0,746.8 342.1,748.9 346.3,744.2 348.4,745.3 354.7,742.6 358.9,737.4 363.2,728.4 369.5,717.4 370.5,713.7 372.6,713.7 374.7,705.8 376.3,706.3 384.7,720.5 385.8,720.5 390.0,710.5 396.8,710.5 400.0,704.2 401.8,698.9 403.9,684.2 406.1,682.1 410.3,679.5 411.8,684.7 412.9,672.6 414.5,668.4 417.1,663.7 420.8,661.1 423.4,659.5 427.6,696.8 430.3,692.1 431.8,691.6 437.6,678.9 439.2,669.5 442.9,656.3 444.5,659.5 449.7,661.6 451.8,663.2 456.6,675.3 458.7,670.5 463.4,667.9 467.1,665.8 469.2,660.0 470.8,663.2 475.5,658.9 479.2,654.7 481.3,654.7 482.9,645.3 486.6,641.1 492.9,649.5 496.6,643.2 498.7,647.9 501.3,648.9 508.7,661.1 512.4,649.5 514.5,648.9 521.3,638.4 526.6,628.4 528.2,621.1 533.9,615.8 535.5,616.3 538.2,614.7 540.3,615.8 542.4,626.8 548.2,627.4 551.8,616.8 555.0,622.1 555.3,623.4 557.9,626.6 561.6,630.3 563.7,636.1 565.8,644.5 567.9,629.7 571.1,635.0 574.7,641.3 577.9,648.7 580.0,661.8 580.5,653.4 582.6,654.5 586.3,664.5 590.5,675.0 592.1,674.5 595.3,652.9 597.9,650.3 603.7,650.3 606.3,632.4 608.9,630.3 611.6,635.0 618.9,636.1 623.2,650.8 627.9,641.8 631.6,635.5 633.2,637.6 634.7,635.0 636.8,626.6 638.9,617.1 645.3,619.2 646.8,632.4 648.9,628.7 651.1,617.1 658.9,621.3 660.5,634.5 666.3,631.3 676.3,648.7 680.0,642.4 686.8,642.4 687.9,627.6 690.0,622.9 693.7,621.8 695.3,623.4 700.0,613.9 702.1,616.6 705.8,625.0 707.9,619.7 710.0,618.2 713.9,618.9 716.6,626.8 717.6,622.6 720.8,637.4 727.6,662.1 729.7,644.7 731.8,645.3 735.0,630.0 736.6,629.5 744.5,627.9 747.6,633.7 748.7,626.3 757.6,621.6 761.3,642.1 763.4,639.5 768.7,639.5 770.8,661.6 772.9,671.1 775.0,655.3 776.6,656.8 782.9,671.6 787.6,665.3 791.3,650.0 796.1,644.2 798.7,642.1 799.7,643.7 801.3,632.6 803.4,637.4 805.0,633.7 810.8,633.2 816.6,614.2 826.1,601.6 827.6,603.2 830.3,596.3 832.9,595.8 838.7,595.8 841.3,602.1 845.5,598.9 854.5,604.2 857.6,580.0 860.8,580.0 865.0,582.1 866.7,584.5 868.7,587.2 870.1,587.2 872.1,593.9 874.1,601.9 879.4,601.9 881.4,594.6 883.5,596.6 885.5,597.3 888.1,618.0 894.2,606.6 895.5,612.0 897.5,600.6 899.5,597.9 901.5,593.2 907.6,581.8 909.6,583.2 911.6,590.6 913.6,591.2 914.9,590.6 922.3,601.9 925.0,597.9 927.0,596.6 929.0,591.2 932.4,589.2 935.7,587.2 941.1,579.2 948.4,587.2 951.1,585.9 952.5,587.2 955.1,595.2 962.5,585.9 964.5,575.1 965.9,574.5 967.2,577.8 968.5,567.1 971.2,563.8 977.3,554.4 981.9,534.3 984.6,530.3 990.0,530.7 993.3,526.2 994.7,521.5 996.7,537.0 998.7,531.6 1004.1,530.9 1007.4,534.3 1010.1,531.6 1012.1,520.2 1015.4,512.2 1019.5,496.1 1021.1,496.8 1023.4,493.8 1027.2,490.0 1031.8,486.9 1034.1,490.0 1036.4,486.9 1039.5,486.9 1043.3,490.7 1047.2,494.5 1050.2,503.0 1053.3,490.7 1057.1,492.2 1060.2,493.8 1064.0,486.1 1065.5,497.6 1067.8,499.9 1075.5,499.9 1077.8,496.1 1080.8,510.6 1083.1,512.9 1087.0,516.0 1089.3,532.8 1091.6,537.4 1093.1,544.3 1095.4,538.2 1101.5,532.8 1105.3,555.0 1109.2,531.3 1115.3,522.9 1122.9,549.7 1129.1,557.3 1130.6,554.3 1132.1,560.4 1135.2,587.9 1137.5,591.8 1144.4,625.5 1149.0,584.9 1156.6,604.8 1159.7,632.3 1161.2,624.7 1164.3,607.1 1170.4,616.3 1175.0,601.0 1177.5,574.5 1184.3,577.6 1188.0,562.7 1190.5,565.2 1198.0,565.2 1199.9,573.9 1201.7,568.9 1204.2,567.7 1209.8,570.2 1214.2,575.1 1217.9,560.8 1220.4,560.8 1225.4,564.6 1229.7,554.0 1233.5,562.7 1243.4,562.7 1245.3,574.5 1246.5,565.2 1252.1,558.3 1255.8,557.1 1258.3,552.1 1260.8,529.7 1263.3,527.9 1267.0,526.0 1269.5,517.9 1272.6,514.2 1275.1,506.7 1280.7,512.9 1285.7,502.3 1289.4,499.9 1296.3,503.0 1296.9,506.1 1300.0,496.7 1303.7,486.8 1306.9,485.6 1310.6,486.2 1314.3,494.9 1316.2,493.0 1319.3,483.7 1324.9,480.6 1325.3,482.1 1327.9,490.5 1335.8,494.7 1337.9,507.4 1338.9,501.1 1341.1,501.1 1345.3,506.3 1350.0,510.5 1352.6,518.9 1354.2,516.8 1356.3,506.3 1359.5,506.3 1364.2,506.8 1366.3,496.8 1368.4,485.3 1371.6,480.0 1377.9,476.8 1382.6,471.6 1385.3,476.8 1391.6,482.6 1394.2,477.4 1396.8,475.8 1397.9,480.0 1400.0,468.4 1403.4,464.7 1407.6,463.7 1408.7,459.5 1413.9,454.2 1419.7,450.0 1422.9,450.5 1425.0,450.0 1427.6,458.9 1432.9,438.9 1437.1,443.7 1441.3,460.0 1447.1,477.9 1452.9,452.6 1456.6,458.4 1460.8,464.7 1466.6,453.7 1472.9,457.9 1476.6,456.8 1480.8,464.2 1481.8,442.6 1487.6,438.9 1489.7,431.1 1491.8,435.8 1496.1,426.8 1502.4,427.9 1504.5,417.4 1506.1,426.8 1510.8,415.3 1516.1,405.3 1519.7,387.9 1523.9,404.7 1529.7,412.6 1533.9,411.6 1537.6,392.6 1545.5,396.3 1547.6,415.8 1549.7,417.4 1551.8,408.9 1555.0,418.9 1559.4,428.2 1563.4,400.1 1565.4,402.1 1574.8,402.7 1579.5,425.5 1587.5,416.1 1592.2,443.6 1598.9,442.3 1602.9,429.5 1604.9,438.9 1607.6,441.6 1613.0,434.2 1618.3,453.7 1621.0,455.7 1626.4,464.4 1630.4,485.8 1632.4,479.8 1640.5,490.5 1644.5,471.7 1646.5,484.5 1657.9,520.0 1661.9,494.5 1669.9,480.5 1676.0,516.6 1682.0,509.9 1686.0,514.0 1690.0,505.2 1695.4,519.3 1700.1,501.2 1702.1,501.9 1703.4,514.6 1710.0,508.6 1713.1,478.8 1715.1,472.8 1717.1,448.6 1720.1,434.6 1723.1,422.5 1727.1,433.6 1730.2,427.5 1737.2,419.5 1739.2,425.5 1742.2,420.5 1743.2,412.5 1745.2,421.5 1751.3,421.5 1754.3,400.4 1756.3,397.4 1758.3,398.4 1759.3,386.3 1767.3,372.3 1769.3,372.3 1772.4,378.3 1778.4,375.3 1782.4,393.4 1786.4,375.3 1792.5,371.3 1794.5,377.3 1798.5,371.3 1800.5,364.2 1806.5,357.2 1809.5,349.1 1810.6,356.2 1813.6,345.1 1816.6,347.1 1820.6,354.2 1822.6,342.1 1826.6,353.2 1835.7,349.1 1836.7,351.2 1840.1,331.1" fill="none" stroke="#000" stroke-width="2.2" stroke-linejoin="round" stroke-linecap="round"/>
<path d="M95.4,516.6 100.7,522.0 105.4,528.0 109.4,528.0 111.4,514.6 112.8,515.3 118.8,528.0 121.5,517.3 124.2,514.6 125.5,515.3 127.5,503.9 132.9,497.9 134.9,501.2 138.9,495.9 141.6,507.3 146.3,518.6 149.0,517.3 150.3,520.7 152.3,526.7 155.0,509.9 161.0,499.9 162.4,479.8 163.7,491.8 165.0,489.2 169.1,483.8 174.4,458.3 175.8,460.4 177.8,459.7 178.4,453.0 181.8,474.4 185.1,477.1 189.2,478.4 191.8,473.8 194.5,470.4 195.9,479.1 203.9,479.8 204.6,482.5 206.6,473.1 208.6,470.4 209.9,415.5 215.3,414.1 218.0,418.1 222.0,407.4 224.7,410.1 229.4,432.9 231.4,429.5 234.1,429.5 236.1,433.6 243.4,433.6 245.4,414.8 246.8,393.4 250.0,406.1 251.6,427.1 257.4,425.0 261.6,435.5 263.2,452.4 265.3,430.3 271.1,447.1 273.7,438.7 275.8,437.6 279.5,421.8 285.3,421.8 288.4,439.7 288.9,472.4 293.2,462.9 300.5,468.7 303.2,473.9 306.8,473.9 313.2,482.9 317.9,471.3 318.9,456.6 328.4,456.6 332.6,469.7 334.7,466.1 340.5,472.4 343.7,456.6 346.8,458.7 348.4,452.4 353.7,445.5 356.8,447.6 360.0,438.7 362.1,420.8 367.9,425.5 371.6,424.5 375.3,433.4 380.0,434.5 383.7,433.9 387.4,445.0 390.5,449.2 395.3,462.4 400.0,465.0 401.5,466.2 403.6,455.9 410.9,455.9 411.8,462.8 413.5,451.2 415.2,433.5 416.5,439.1 423.4,439.1 426.0,430.5 427.7,425.8 429.4,449.4 431.2,454.6 438.1,449.9 440.2,450.7 443.7,456.3 444.9,474.0 451.0,471.8 455.3,476.1 457.0,467.1 463.9,467.1 468.2,463.7 472.9,470.5 479.0,470.5 480.7,451.6 482.0,466.7 482.8,480.4 484.6,464.9 487.6,464.1 492.7,462.8 496.2,475.3 498.8,467.1 500.1,473.1 508.7,473.1 510.4,482.2 511.7,477.9 513.8,481.3 522.0,496.8 528.0,477.4 534.1,479.2 537.5,460.6 542.3,460.2 547.9,458.1 552.6,464.9 553.7,470.2 561.6,476.0 563.7,468.5 567.8,470.6 569.9,466.9 575.7,471.8 577.8,478.9 581.5,472.3 583.6,473.1 591.5,460.2 595.2,464.0 597.3,468.5 604.3,468.5 607.2,470.2 608.9,481.8 611.4,481.8 617.2,476.4 620.9,476.0 623.0,474.3 630.5,478.9 632.9,476.0 635.4,481.0 639.2,476.4 645.4,478.9 646.6,462.7 650.4,461.1 652.9,432.4 658.2,439.5 661.1,456.5 664.0,459.4 666.5,451.9 674.0,452.3 678.1,474.7 686.0,463.5 688.1,435.8 691.8,441.6 694.3,453.2 700.5,455.3 703.4,442.0 705.9,441.2 710.0,434.1 713.6,430.3 716.5,439.9 719.4,456.2 728.9,443.7 730.8,440.9 732.8,442.8 737.5,440.9 743.3,440.9 745.2,447.6 755.7,448.5 758.6,407.4 760.0,404.6 763.1,390.9 769.2,387.0 770.7,400.1 773.0,364.8 774.5,370.2 776.8,367.1 783.0,393.9 785.3,380.9 789.1,380.2 797.5,348.0 799.0,341.1 801.3,342.7 803.6,322.0 810.5,335.8 812.8,323.5 814.3,329.6 815.9,318.2 818.2,271.5 824.3,269.9 826.6,286.0 828.1,273.8 830.4,313.6 831.9,314.3 840.4,344.2 842.7,344.9 844.2,335.0 852.6,330.4 856.4,385.5 858.0,367.1 859.5,374.8 868.7,368.7 870.2,380.9 872.5,361.0 879.8,405.6 884.6,405.6 886.5,404.1 887.9,385.0 893.2,391.7 898.0,387.4 899.9,393.6 901.8,392.2 907.5,403.2 909.4,396.5 911.8,397.4 915.2,379.2 921.4,378.3 922.8,366.3 925.2,362.5 927.2,371.6 929.1,387.8 934.8,402.2 938.6,399.3 941.0,405.1 949.6,405.1 951.1,388.3 952.5,399.3 956.8,398.4 962.6,407.0 965.0,407.5 968.8,425.2 971.7,423.3 977.4,423.3 980.3,418.0 980.7,423.7 982.7,407.5 984.1,415.6 990.8,423.7 994.6,414.2 996.5,413.2 998.4,403.2 1005.6,403.2 1008.0,397.9 1009.9,411.3 1011.8,409.4 1020.0,424.7 1021.9,415.1 1025.7,416.1 1031.9,423.3 1035.0,423.3 1036.7,423.0 1038.1,420.1 1039.6,423.4 1045.8,423.4 1047.7,415.8 1049.1,420.6 1051.5,420.1 1053.4,425.4 1059.7,425.4 1061.6,431.6 1065.4,462.2 1065.9,450.7 1068.3,452.2 1072.6,455.5 1075.5,461.2 1078.8,462.2 1081.2,467.0 1087.4,460.8 1089.8,460.3 1091.2,452.2 1093.2,459.3 1095.1,473.2 1101.8,464.1 1103.2,459.8 1104.6,466.0 1108.9,480.4 1113.3,482.3 1115.6,483.3 1117.6,479.9 1120.4,487.1 1123.3,483.7 1128.1,481.3 1131.0,473.7 1134.3,474.6 1136.7,469.9 1142.4,476.1 1144.8,466.0 1146.3,470.3 1150.6,463.6 1158.2,460.3 1160.6,464.6 1164.4,459.3 1170.7,464.6 1174.5,460.3 1176.4,453.1 1179.3,451.7 1184.1,430.1 1186.9,439.1 1189.8,443.4 1194.6,445.4 1199.4,444.9 1200.3,446.3 1203.7,453.0 1210.8,452.1 1213.7,447.3 1216.6,448.2 1225.7,447.8 1227.6,436.7 1230.0,439.1 1232.8,451.6 1240.0,451.1 1241.5,444.9 1242.9,455.9 1245.3,455.4 1248.2,459.2 1252.9,463.1 1254.9,471.7 1256.8,471.7 1259.2,479.3 1261.1,475.5 1266.3,475.0 1269.2,470.7 1274.0,478.4 1276.4,482.2 1279.7,486.0 1280.0,484.2 1283.7,477.9 1285.3,478.9 1286.8,487.4 1289.5,489.5 1295.8,500.0 1298.4,492.6 1300.5,500.0 1302.6,488.4 1306.3,491.6 1309.5,487.4 1311.6,488.4 1314.7,482.1 1316.3,487.4 1320.5,487.9 1324.2,486.3 1326.3,483.2 1329.5,491.6 1332.1,491.6 1336.8,486.8 1338.4,471.6 1340.5,470.5 1344.2,476.8 1350.0,474.2 1353.7,495.3 1356.8,506.3 1360.0,504.2 1365.3,498.9 1367.4,503.2 1372.1,503.2 1377.9,486.3 1381.6,470.5 1382.6,469.5 1384.2,476.8 1385.3,496.8 1390.5,497.9 1393.7,500.0 1394.7,502.1 1396.3,503.2 1397.9,511.6 1400.0,512.6 1400.2,512.7 1405.3,521.3 1407.6,534.5 1411.7,539.7 1413.4,548.3 1419.7,552.3 1420.8,573.6 1422.6,551.2 1423.7,559.2 1425.4,553.5 1428.3,556.9 1435.2,567.8 1440.9,563.3 1447.8,568.4 1453.6,562.7 1459.3,564.4 1466.8,565.0 1468.5,560.4 1473.1,560.4 1478.8,561.5 1483.4,600.0 1488.1,626.2 1488.9,630.5 1490.7,627.9 1492.4,642.5 1495.0,641.7 1496.7,631.3 1501.9,623.6 1507.0,664.1 1510.5,648.6 1515.6,664.1 1518.2,655.4 1521.7,696.8 1523.4,669.2 1532.0,660.6 1538.0,712.3 1544.1,719.2 1545.8,712.3 1549.2,729.5 1550.9,750.2 1557.8,745.9 1561.3,763.1 1563.9,732.1 1566.4,731.2 1573.3,717.4 1575.9,708.8 1577.6,716.6 1579.4,663.2 1587.1,664.9 1588.8,654.6 1590.6,621.0 1593.1,628.8 1599.2,607.2 1602.6,653.7 1606.1,682.1 1612.9,683.0 1615.5,673.5 1619.8,665.8 1626.2,674.8 1628.7,708.4 1630.0,689.8 1634.3,666.1 1643.0,687.3 1644.9,710.3 1646.1,696.6 1654.2,696.6 1658.0,678.0 1662.3,701.6 1669.2,690.4 1672.3,699.7 1676.0,698.5 1682.2,704.7 1686.0,749.5 1689.7,735.2 1695.9,735.2 1700.3,742.7 1703.4,734.0 1711.5,753.2 1713.3,747.6 1715.8,753.2 1718.3,750.8 1723.3,750.8 1725.2,732.7 1727.0,742.0 1730.8,711.6 1740.7,690.4 1744.4,715.9 1750.7,744.5 1753.2,729.0 1760.0,732.1 1765.5,733.1 1767.1,725.8 1769.5,729.9 1772.8,712.8 1780.9,726.6 1784.2,743.7 1786.6,723.4 1792.3,721.7 1797.2,724.2 1800.4,739.6 1806.1,739.6 1808.6,734.7 1811.0,738.8 1814.3,760.0 1820.0,761.6 1824.0,759.2 1826.5,768.1 1834.6,786.0 1837.1,794.1 1838.7,799.0 1840.3,796.6 1841.9,848.7" fill="none" stroke="#da0b0b" stroke-width="1.9" stroke-linejoin="round" stroke-linecap="round"/>
<line x1="749.1" y1="962.1" x2="796.6" y2="962.1" stroke="#000" stroke-width="2.2"/>
<text x="804.5" y="969.3" font-family="Liberation Sans, Noto Sans CJK SC, sans-serif" font-size="21.5" textLength="139.5" lengthAdjust="spacing" fill="#303030">纳斯达克指数</text>
<line x1="951" y1="962.1" x2="999.6" y2="962.1" stroke="#da0b0b" stroke-width="2"/>
<text x="1006.8" y="969.3" font-family="Liberation Sans, Noto Sans CJK SC, sans-serif" font-size="21.5" textLength="160" lengthAdjust="spacing" fill="#303030">黄金价格(右轴)</text>
</svg>
</body></html>
